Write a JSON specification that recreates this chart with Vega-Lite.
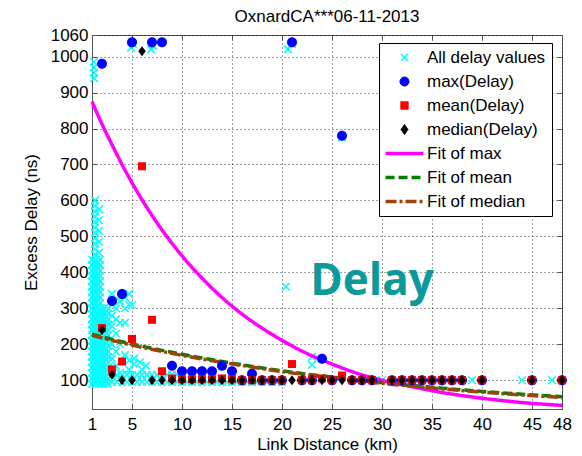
{
  "$schema": "https://vega.github.io/schema/vega-lite/v6.json",
  "width": 470,
  "height": 374,
  "autosize": {"type": "none"},
  "padding": {"left": 92, "top": 35, "right": 20, "bottom": 47},
  "background": "white",
  "title": {"text": "OxnardCA***06-11-2013", "fontSize": 17, "fontWeight": "normal", "font": "Liberation Sans", "color": "black", "offset": 0, "anchor": "middle", "frame": "group"},
  "datasets": {
    "raw": [
      {"d":1,"v":90},{"d":1,"v":105},{"d":1,"v":120},{"d":1,"v":135},{"d":1,"v":150},{"d":1,"v":165},{"d":1,"v":180},{"d":1,"v":195},{"d":1,"v":210},{"d":1,"v":225},{"d":1,"v":240},{"d":1,"v":255},{"d":1,"v":270},{"d":1,"v":285},{"d":1,"v":300},{"d":1,"v":315},{"d":1,"v":330},{"d":1,"v":345},{"d":1,"v":360},{"d":1,"v":375},{"d":1,"v":390},{"d":1,"v":405},{"d":1,"v":420},{"d":1,"v":435},
      {"d":1.4,"v":90},{"d":1.4,"v":105},{"d":1.4,"v":120},{"d":1.4,"v":135},{"d":1.4,"v":150},{"d":1.4,"v":165},{"d":1.4,"v":180},{"d":1.4,"v":195},{"d":1.4,"v":210},{"d":1.4,"v":225},{"d":1.4,"v":240},{"d":1.4,"v":255},{"d":1.4,"v":270},{"d":1.4,"v":285},{"d":1.4,"v":300},{"d":1.4,"v":315},{"d":1.4,"v":330},{"d":1.4,"v":345},{"d":1.4,"v":360},{"d":1.4,"v":375},{"d":1.4,"v":390},{"d":1.4,"v":405},{"d":1.4,"v":420},{"d":1.4,"v":435},
      {"d":1.8,"v":90},{"d":1.8,"v":105},{"d":1.8,"v":120},{"d":1.8,"v":135},{"d":1.8,"v":150},{"d":1.8,"v":165},{"d":1.8,"v":180},{"d":1.8,"v":195},{"d":1.8,"v":210},{"d":1.8,"v":225},{"d":1.8,"v":240},{"d":1.8,"v":255},{"d":1.8,"v":270},{"d":1.8,"v":285},{"d":1.8,"v":300},{"d":1.8,"v":315},{"d":1.8,"v":330},{"d":1.8,"v":345},{"d":1.8,"v":360},{"d":1.8,"v":375},{"d":1.8,"v":390},{"d":1.8,"v":405},{"d":1.8,"v":420},{"d":1.8,"v":435},
      {"d":2.2,"v":90},{"d":2.2,"v":105},{"d":2.2,"v":120},{"d":2.2,"v":135},{"d":2.2,"v":150},{"d":2.2,"v":165},{"d":2.2,"v":180},{"d":2.2,"v":195},{"d":2.2,"v":210},{"d":2.2,"v":225},{"d":2.2,"v":240},{"d":2.2,"v":255},{"d":2.2,"v":270},{"d":2.2,"v":285},{"d":2.2,"v":300},
      {"d":2.6,"v":90},{"d":2.6,"v":105},{"d":2.6,"v":120},{"d":2.6,"v":135},{"d":2.6,"v":150},{"d":2.6,"v":165},{"d":2.6,"v":180},{"d":2.6,"v":195},{"d":2.6,"v":210},{"d":2.6,"v":225},{"d":2.6,"v":240},{"d":2.6,"v":255},{"d":2.6,"v":270},{"d":2.6,"v":285},{"d":2.6,"v":300},
      {"d":1.2,"v":97},{"d":1.2,"v":112},{"d":1.2,"v":127},{"d":1.2,"v":142},{"d":1.2,"v":157},{"d":1.2,"v":172},{"d":1.2,"v":187},{"d":1.2,"v":202},{"d":1.2,"v":217},{"d":1.2,"v":232},{"d":1.2,"v":247},{"d":1.2,"v":262},{"d":1.2,"v":277},{"d":1.2,"v":292},{"d":1.2,"v":307},{"d":1.2,"v":322},{"d":1.2,"v":337},{"d":1.2,"v":352},{"d":1.2,"v":367},{"d":1.2,"v":382},{"d":1.2,"v":397},{"d":1.2,"v":412},{"d":1.2,"v":427},
      {"d":1.6,"v":97},{"d":1.6,"v":112},{"d":1.6,"v":127},{"d":1.6,"v":142},{"d":1.6,"v":157},{"d":1.6,"v":172},{"d":1.6,"v":187},{"d":1.6,"v":202},{"d":1.6,"v":217},{"d":1.6,"v":232},{"d":1.6,"v":247},{"d":1.6,"v":262},{"d":1.6,"v":277},{"d":1.6,"v":292},{"d":1.6,"v":307},{"d":1.6,"v":322},{"d":1.6,"v":337},{"d":1.6,"v":352},{"d":1.6,"v":367},{"d":1.6,"v":382},{"d":1.6,"v":397},{"d":1.6,"v":412},{"d":1.6,"v":427},
      {"d":2.0,"v":97},{"d":2.0,"v":112},{"d":2.0,"v":127},{"d":2.0,"v":142},{"d":2.0,"v":157},{"d":2.0,"v":172},{"d":2.0,"v":187},{"d":2.0,"v":202},{"d":2.0,"v":217},{"d":2.0,"v":232},{"d":2.0,"v":247},{"d":2.0,"v":262},{"d":2.0,"v":277},{"d":2.0,"v":292},
      {"d":2.4,"v":97},{"d":2.4,"v":112},{"d":2.4,"v":127},{"d":2.4,"v":142},{"d":2.4,"v":157},{"d":2.4,"v":172},{"d":2.4,"v":187},{"d":2.4,"v":202},{"d":2.4,"v":217},{"d":2.4,"v":232},{"d":2.4,"v":247},{"d":2.4,"v":262},{"d":2.4,"v":277},{"d":2.4,"v":292},
      {"d":1.3,"v":450},{"d":1.3,"v":465},{"d":1.3,"v":480},{"d":1.3,"v":495},{"d":1.3,"v":510},{"d":1.3,"v":525},{"d":1.3,"v":540},{"d":1.3,"v":555},{"d":1.3,"v":570},{"d":1.3,"v":585},{"d":1.3,"v":600},
      {"d":1.7,"v":455},{"d":1.7,"v":485},{"d":1.7,"v":515},{"d":1.7,"v":545},{"d":1.7,"v":575},
      {"d":1.2,"v":940},{"d":1.2,"v":955},{"d":1.2,"v":970},{"d":1.2,"v":985},
      {"d":3.0,"v":130},{"d":3.0,"v":160},{"d":3.0,"v":200},{"d":3.0,"v":250},{"d":3.0,"v":280},{"d":3.0,"v":310},{"d":3.0,"v":340},
      {"d":3.4,"v":140},{"d":3.4,"v":180},{"d":3.4,"v":230},{"d":3.4,"v":270},{"d":3.4,"v":300},
      {"d":3.8,"v":120},{"d":3.8,"v":200},{"d":3.8,"v":260},{"d":3.8,"v":320},
      {"d":4.3,"v":170},{"d":4.3,"v":260},{"d":4.3,"v":300},{"d":4.3,"v":330},
      {"d":4.7,"v":130},{"d":4.7,"v":155},{"d":4.7,"v":310},{"d":4.7,"v":340},
      {"d":5.0,"v":310},{"d":5.2,"v":145},{"d":5.2,"v":160},{"d":5.8,"v":150},{"d":6.0,"v":130},{"d":6.4,"v":140},
      {"d":3,"v":95},{"d":3.5,"v":95},{"d":4,"v":95},{"d":4.5,"v":95},{"d":5,"v":95},{"d":5.5,"v":95},{"d":6,"v":95},{"d":6.5,"v":95},{"d":7,"v":95},{"d":7.5,"v":95},{"d":8,"v":95},{"d":8.5,"v":95},{"d":9,"v":95},{"d":9.5,"v":95},{"d":10,"v":95},{"d":10.5,"v":95},{"d":11,"v":95},{"d":11.5,"v":95},{"d":12,"v":95},{"d":12.5,"v":95},{"d":13,"v":95},{"d":13.5,"v":95},{"d":14,"v":95},{"d":14.5,"v":95},{"d":15,"v":95},{"d":15.5,"v":95},{"d":16,"v":95},{"d":16.5,"v":95},{"d":17,"v":95},{"d":17.5,"v":95},{"d":18,"v":95},{"d":18.5,"v":95},{"d":19,"v":95},{"d":19.5,"v":95},{"d":20,"v":95},
      {"d":3,"v":115},{"d":3.5,"v":115},{"d":4,"v":115},{"d":4.5,"v":115},{"d":5,"v":115},{"d":5.5,"v":115},{"d":6,"v":115},{"d":6.5,"v":115},{"d":7,"v":115},{"d":7.5,"v":115},{"d":8,"v":115},{"d":8.5,"v":115},{"d":9,"v":115},{"d":9.5,"v":115},
      {"d":4.9,"v":1025},{"d":5.1,"v":1035},{"d":6.9,"v":1020},{"d":7.1,"v":1030},{"d":20.6,"v":1020},{"d":21,"v":1035},{"d":20.4,"v":360},{"d":23,"v":143},{"d":23,"v":165},{"d":26,"v":775},{"d":14,"v":140},{"d":30,"v":100},{"d":39,"v":100},{"d":44,"v":100},{"d":47,"v":100}
    ],
    "maxd": [
      {"d":2,"v":980},{"d":3,"v":320},{"d":4,"v":340},{"d":5,"v":1040},{"d":7,"v":1040},{"d":8,"v":1040},{"d":9,"v":140},{"d":10,"v":125},{"d":11,"v":125},{"d":12,"v":125},{"d":13,"v":125},{"d":14,"v":140},{"d":15,"v":125},{"d":16,"v":100},{"d":17,"v":118},{"d":18,"v":100},{"d":19,"v":100},{"d":20,"v":100},{"d":21,"v":1040},{"d":22,"v":100},{"d":23,"v":100},{"d":24,"v":160},{"d":25,"v":100},{"d":26,"v":780},{"d":27,"v":100},{"d":28,"v":100},{"d":29,"v":100},{"d":31,"v":100},{"d":32,"v":100},{"d":33,"v":100},{"d":34,"v":100},{"d":35,"v":100},{"d":36,"v":100},{"d":37,"v":100},{"d":38,"v":100},{"d":40,"v":100},{"d":45,"v":100},{"d":48,"v":100}
    ],
    "meand": [
      {"d":2,"v":245},{"d":3,"v":130},{"d":4,"v":152},{"d":5,"v":215},{"d":6,"v":695},{"d":7,"v":268},{"d":8,"v":125},{"d":9,"v":105},{"d":10,"v":103},{"d":11,"v":103},{"d":12,"v":103},{"d":13,"v":103},{"d":14,"v":105},{"d":15,"v":103},{"d":16,"v":100},{"d":17,"v":100},{"d":18,"v":100},{"d":19,"v":100},{"d":20,"v":100},{"d":21,"v":145},{"d":22,"v":100},{"d":23,"v":100},{"d":24,"v":105},{"d":25,"v":100},{"d":26,"v":113},{"d":27,"v":100},{"d":28,"v":100},{"d":29,"v":100},{"d":31,"v":100},{"d":32,"v":100},{"d":33,"v":100},{"d":34,"v":100},{"d":35,"v":100},{"d":36,"v":100},{"d":37,"v":100},{"d":38,"v":100},{"d":40,"v":100},{"d":45,"v":100},{"d":48,"v":100}
    ],
    "mediand": [
      {"d":2,"v":240},{"d":3,"v":115},{"d":4,"v":100},{"d":5,"v":100},{"d":6,"v":1015},{"d":7,"v":100},{"d":8,"v":100},{"d":9,"v":100},{"d":10,"v":100},{"d":11,"v":100},{"d":12,"v":100},{"d":13,"v":100},{"d":14,"v":100},{"d":15,"v":100},{"d":16,"v":100},{"d":17,"v":100},{"d":18,"v":100},{"d":19,"v":100},{"d":20,"v":100},{"d":21,"v":100},{"d":22,"v":100},{"d":23,"v":100},{"d":24,"v":100},{"d":25,"v":100},{"d":26,"v":100},{"d":27,"v":100},{"d":28,"v":100},{"d":29,"v":100},{"d":31,"v":100},{"d":32,"v":100},{"d":33,"v":100},{"d":34,"v":100},{"d":35,"v":100},{"d":36,"v":100},{"d":37,"v":100},{"d":38,"v":100},{"d":40,"v":100},{"d":45,"v":100},{"d":48,"v":100}
    ],
    "fits": [
      {"s":"Fit of max","d":1,"v":875},{"s":"Fit of max","d":2,"v":812},{"s":"Fit of max","d":3,"v":755},{"s":"Fit of max","d":4,"v":700},{"s":"Fit of max","d":6,"v":602},{"s":"Fit of max","d":8,"v":518},{"s":"Fit of max","d":10,"v":446},{"s":"Fit of max","d":12,"v":384},{"s":"Fit of max","d":14,"v":330},{"s":"Fit of max","d":16,"v":284},{"s":"Fit of max","d":18,"v":245},{"s":"Fit of max","d":20,"v":211},{"s":"Fit of max","d":22,"v":181},{"s":"Fit of max","d":25,"v":145},{"s":"Fit of max","d":28,"v":115},{"s":"Fit of max","d":30,"v":100},{"s":"Fit of max","d":33,"v":82},{"s":"Fit of max","d":36,"v":66},{"s":"Fit of max","d":40,"v":50},{"s":"Fit of max","d":44,"v":38},{"s":"Fit of max","d":48,"v":30},
      {"s":"Fit of mean","d":1,"v":228},{"s":"Fit of mean","d":4,"v":207},{"s":"Fit of mean","d":8,"v":183},{"s":"Fit of mean","d":12,"v":162},{"s":"Fit of mean","d":16,"v":143},{"s":"Fit of mean","d":20,"v":126},{"s":"Fit of mean","d":24,"v":112},{"s":"Fit of mean","d":28,"v":99},{"s":"Fit of mean","d":32,"v":88},{"s":"Fit of mean","d":36,"v":78},{"s":"Fit of mean","d":40,"v":69},{"s":"Fit of mean","d":44,"v":61},{"s":"Fit of mean","d":48,"v":54},
      {"s":"Fit of median","d":1,"v":225},{"s":"Fit of median","d":4,"v":204},{"s":"Fit of median","d":8,"v":180},{"s":"Fit of median","d":12,"v":159},{"s":"Fit of median","d":16,"v":141},{"s":"Fit of median","d":20,"v":124},{"s":"Fit of median","d":24,"v":110},{"s":"Fit of median","d":28,"v":97},{"s":"Fit of median","d":32,"v":86},{"s":"Fit of median","d":36,"v":76},{"s":"Fit of median","d":40,"v":67},{"s":"Fit of median","d":44,"v":59},{"s":"Fit of median","d":48,"v":52}
    ],
    "ann": [{"label":"Delay","d":29,"v":337}]
  },
  "resolve": {"axis": {"x": "independent", "y": "independent"}},
  "layer": [
    {
      "data": {"name": "raw"},
      "mark": {"type": "point", "shape": "M-1,-1L1,1M-1,1L1,-1", "filled": false, "strokeWidth": 1.6, "size": 56, "opacity": 1, "color": "#00FFFF"},
      "encoding": {
        "x": {"field": "d", "type": "quantitative", "scale": {"domain": [1, 48], "nice": false, "zero": false},
              "axis": {"orient": "bottom", "values": [1,5,10,15,20,25,30,35,40,45,48], "title": "Link Distance (km)", "grid": true, "tickSize": -5, "labelPadding": 12, "titlePadding": 4, "labelFlush": false}},
        "y": {"field": "v", "type": "quantitative", "scale": {"domain": [20, 1060], "nice": false, "zero": false},
              "axis": {"orient": "left", "values": [100,200,300,400,500,600,700,800,900,1000,1060], "format": "d", "title": "Excess Delay (ns)", "grid": true, "tickSize": -5, "labelPadding": 9, "titlePadding": 10}}
      }
    },
    {
      "data": {"name": "fits"},
      "mark": {"type": "line", "strokeWidth": 3.5, "interpolate": "monotone"},
      "encoding": {
        "x": {"field": "d", "type": "quantitative", "axis": {"orient": "top", "values": [1,5,10,15,20,25,30,35,40,45,48], "labels": false, "grid": false, "title": null, "domain": false, "tickSize": -5}},
        "y": {"field": "v", "type": "quantitative", "axis": {"orient": "right", "values": [100,200,300,400,500,600,700,800,900,1000,1060], "labels": false, "grid": false, "title": null, "domain": false, "tickSize": -5}},
        "color": {"field": "s", "type": "nominal",
          "scale": {"domain": ["All delay values","max(Delay)","mean(Delay)","median(Delay)","Fit of max","Fit of mean","Fit of median"],
                    "range": ["#00FFFF","#0000FF","#FF0000","#000000","#FF00FF","#008000","#A0420E"]},
          "legend": {
            "title": null, "orient": "none", "legendX": 287, "legendY": 8,
            "padding": 6, "strokeColor": "black", "fillColor": "white",
            "labelFont": "Liberation Sans", "labelFontSize": 17, "labelColor": "black",
            "labelOffset": 25, "symbolOffset": 0, "rowPadding": 6, "symbolSize": 300,
            "encode": {"symbols": {"update": {
              "shape": {"signal": "datum.value === 'All delay values' ? 'M0.87,-0.4L1.67,0.4M0.87,0.4L1.67,-0.4' : datum.value === 'max(Delay)' ? 'M0.75,0A0.52,0.52,0,1,1,1.79,0A0.52,0.52,0,1,1,0.75,0Z' : datum.value === 'mean(Delay)' ? 'M0.84,-0.43H1.7V0.43H0.84Z' : datum.value === 'median(Delay)' ? 'M1.27,-0.58L1.67,0L1.27,0.58L0.87,0Z' : 'M-0.92,0L3.46,0'"},
              "fill": {"signal": "indexof(['max(Delay)','mean(Delay)','median(Delay)'], datum.value) >= 0 ? scale('color', datum.value) : 'transparent'"},
              "stroke": {"signal": "scale('color', datum.value)"},
              "strokeWidth": {"signal": "indexof(['Fit of max','Fit of mean','Fit of median'], datum.value) >= 0 ? 3.5 : datum.value === 'All delay values' ? 1.5 : 1"},
              "strokeDash": {"signal": "datum.value === 'Fit of mean' ? [9,4] : datum.value === 'Fit of median' ? [11,3,3,3] : [1,0]"},
              "opacity": {"value": 1},
              "size": {"value": 300}
            }}}
          }},
        "strokeDash": {"field": "s", "type": "nominal", "scale": {"domain": ["Fit of max","Fit of mean","Fit of median"], "range": [[1,0],[9,4],[11,3,3,3]]}, "legend": null}
      }
    },
    {
      "data": {"name": "maxd"},
      "mark": {"type": "point", "shape": "M-1,0A1,1,0,1,1,1,0A1,1,0,1,1,-1,0Z", "filled": true, "size": 100, "opacity": 1, "color": "#0000FF"},
      "encoding": {
        "x": {"field": "d", "type": "quantitative", "axis": null},
        "y": {"field": "v", "type": "quantitative", "axis": null}
      }
    },
    {
      "data": {"name": "meand"},
      "mark": {"type": "point", "shape": "M-0.8,-0.8H0.8V0.8H-0.8Z", "filled": true, "size": 100, "opacity": 1, "color": "#FF0000"},
      "encoding": {
        "x": {"field": "d", "type": "quantitative", "axis": null},
        "y": {"field": "v", "type": "quantitative", "axis": null}
      }
    },
    {
      "data": {"name": "mediand"},
      "mark": {"type": "point", "shape": "M0,-1L0.75,0L0,1L-0.75,0Z", "filled": true, "size": 100, "opacity": 1, "color": "#000000"},
      "encoding": {
        "x": {"field": "d", "type": "quantitative", "axis": null},
        "y": {"field": "v", "type": "quantitative", "axis": null}
      }
    },
    {
      "data": {"name": "ann"},
      "mark": {"type": "text", "font": "Open Sans", "fontWeight": "bold", "fontSize": 44, "color": "#0B9A9A", "align": "center", "baseline": "alphabetic"},
      "encoding": {
        "x": {"field": "d", "type": "quantitative", "axis": null},
        "y": {"field": "v", "type": "quantitative", "axis": null},
        "text": {"field": "label"}
      }
    }
  ],
  "config": {
    "font": "Liberation Sans",
    "view": {"stroke": "#555", "strokeWidth": 1},
    "axis": {"labelFont": "Liberation Sans", "labelFontSize": 17, "labelColor": "black", "titleFont": "Liberation Sans", "titleFontSize": 17, "titleFontWeight": "normal", "titleColor": "black", "domainColor": "#555", "tickColor": "#555", "gridColor": "#000", "gridDash": [1, 3], "gridOpacity": 0.75}
  }
}
